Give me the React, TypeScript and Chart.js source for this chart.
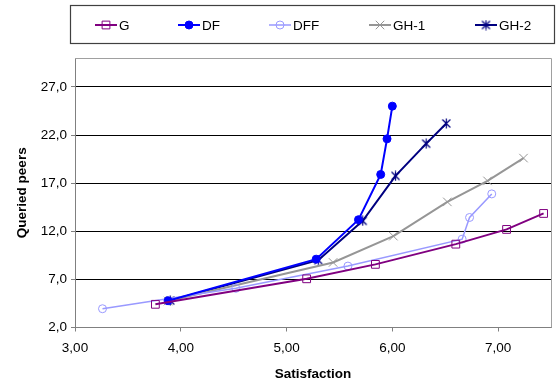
import React, { useEffect, useRef } from 'react';
import { Chart, registerables } from 'chart.js';

Chart.register(...registerables);

const seriesNames = ['G', 'DF', 'DFF', 'GH-1', 'GH-2'];
const gX = [3.76, 5.19, 5.84, 6.6, 7.08, 7.43];
const gY = [4.41, 7.06, 8.56, 10.66, 12.19, 13.85];
const dfX = [3.88, 5.28, 5.68, 5.89, 5.95, 6.0];
const dfY = [4.78, 9.1, 13.2, 17.9, 21.6, 25.0];
const dffX = [3.26, 4.52, 5.58, 6.66, 6.73, 6.94];
const dffY = [3.95, 6.07, 8.38, 11.18, 13.43, 15.88];
const gh1X = [3.88, 5.44, 6.01, 6.52, 6.9, 7.24];
const gh1Y = [4.75, 8.76, 11.49, 15.05, 17.23, 19.6];
const gh2X = [3.9, 5.3, 5.72, 6.03, 6.32, 6.51];
const gh2Y = [4.8, 9.0, 13.08, 17.75, 21.1, 23.2];
const xTickValues = [3, 4, 5, 6, 7];
const yTickValues = [2, 7, 12, 17, 22, 27];

const FONT = '"Liberation Sans", Arial, sans-serif';

function pts(xs: number[], ys: number[]) {
  return xs.map((x, i) => ({ x, y: ys[i] }));
}

function makeAsterisk(color: string): HTMLCanvasElement {
  const c = document.createElement('canvas');
  c.width = 11;
  c.height = 11;
  const g = c.getContext('2d')!;
  g.strokeStyle = color;
  g.lineWidth = 1.2;
  g.beginPath();
  g.moveTo(1.5, 1.5);
  g.lineTo(9.5, 9.5);
  g.moveTo(1.5, 9.5);
  g.lineTo(9.5, 1.5);
  g.moveTo(5.5, 0.5);
  g.lineTo(5.5, 10.5);
  g.stroke();
  return c;
}

function drawMarker(ctx: CanvasRenderingContext2D, style: any, x: number, y: number, r: number, stroke: string, fill: string) {
  ctx.save();
  ctx.strokeStyle = stroke;
  ctx.fillStyle = fill;
  ctx.lineWidth = 1;
  ctx.beginPath();
  if (typeof style !== 'string') {
    ctx.drawImage(style, x - style.width / 2, y - style.height / 2);
  } else if (style === 'rect') {
    const s = Math.SQRT1_2 * r;
    ctx.rect(x - s, y - s, 2 * s, 2 * s);
    ctx.fill();
    ctx.stroke();
  } else if (style === 'circle') {
    ctx.arc(x, y, r, 0, Math.PI * 2);
    ctx.fill();
    ctx.stroke();
  } else if (style === 'crossRot') {
    const o = Math.SQRT1_2 * r;
    ctx.moveTo(x - o, y - o);
    ctx.lineTo(x + o, y + o);
    ctx.moveTo(x - o, y + o);
    ctx.lineTo(x + o, y - o);
    ctx.stroke();
  }
  ctx.restore();
}

const legendPlugin = {
  id: 'boxLegend',
  afterDraw(chart: any) {
    const ctx = chart.ctx as CanvasRenderingContext2D;
    ctx.save();
    ctx.strokeStyle = '#404040';
    ctx.lineWidth = 1.2;
    ctx.strokeRect(70.5, 5.5, 484, 38);
    const xs = [95, 178, 269, 369, 475];
    chart.data.datasets.forEach((ds: any, i: number) => {
      const x0 = xs[i];
      const y = 25;
      ctx.strokeStyle = ds.borderColor;
      ctx.lineWidth = ds.borderWidth;
      ctx.beginPath();
      ctx.moveTo(x0, y);
      ctx.lineTo(x0 + 22, y);
      ctx.stroke();
      drawMarker(ctx, ds.pointStyle, x0 + 11, y, ds.pointRadius, ds.pointBorderColor, ds.pointBackgroundColor);
      ctx.fillStyle = '#000';
      ctx.font = `13.5px ${FONT}`;
      ctx.textAlign = 'left';
      ctx.textBaseline = 'middle';
      ctx.fillText(ds.label, x0 + 24, y + 1);
    });
    ctx.restore();
  },
};

const framePlugin = {
  id: 'frame',
  beforeDatasetsDraw(chart: any) {
    const { ctx, chartArea } = chart;
    ctx.save();
    ctx.strokeStyle = '#a0a0a0';
    ctx.lineWidth = 1;
    ctx.beginPath();
    ctx.moveTo(chartArea.left, Math.round(chartArea.top) + 0.5);
    ctx.lineTo(Math.round(chartArea.right) + 0.5, Math.round(chartArea.top) + 0.5);
    ctx.lineTo(Math.round(chartArea.right) + 0.5, chartArea.bottom);
    ctx.stroke();
    ctx.restore();
  },
};

export default function App() {
  const ref = useRef<HTMLCanvasElement>(null);
  useEffect(() => {
    if (!ref.current) return;
    const mk = (label: string, data: any[], color: string, style: any, r: number, fill: string, lw: number) => ({
      label,
      data,
      showLine: true,
      borderColor: color,
      borderWidth: lw,
      backgroundColor: color,
      pointStyle: style,
      pointRadius: r,
      pointBorderColor: color,
      pointBackgroundColor: fill,
      pointBorderWidth: 1,
      tension: 0,
    });
    const chart = new Chart(ref.current, {
      type: 'scatter',
      data: {
        datasets: [
          mk(seriesNames[0], pts(gX, gY), '#800080', 'rect', 5.5, 'rgba(255,255,255,0)', 2),
          mk(seriesNames[1], pts(dfX, dfY), '#0000ff', 'circle', 4, '#0000ff', 2),
          mk(seriesNames[2], pts(dffX, dffY), '#9999ff', 'circle', 4, 'rgba(255,255,255,0)', 1.5),
          mk(seriesNames[3], pts(gh1X, gh1Y), '#969696', 'crossRot', 6, 'rgba(0,0,0,0)', 2),
          mk(seriesNames[4], pts(gh2X, gh2Y), '#000080', makeAsterisk('#000080'), 5, 'rgba(0,0,0,0)', 2),
        ] as any,
      },
      options: {
        animation: false,
        responsive: true,
        maintainAspectRatio: false,
        layout: { padding: { top: 58, right: 7, left: 0, bottom: 0 } },
        plugins: { legend: { display: false }, tooltip: { enabled: false } },
        scales: {
          x: {
            type: 'linear',
            min: 3,
            max: 7.5,
            afterFit: (s: any) => { s.height = 57.5; },
            afterBuildTicks: (s: any) => { s.ticks = xTickValues.map((v) => ({ value: v })); },
            ticks: {
              color: '#000',
              font: { family: FONT, size: 13.5 },
              padding: 9,
              callback: (v: any) => Number(v).toFixed(2).replace('.', ','),
            },
            grid: { drawOnChartArea: false, drawTicks: true, tickLength: 4, tickColor: '#808080' },
            border: { color: '#808080', width: 1 },
            title: {
              display: true,
              text: 'Satisfaction',
              color: '#000',
              font: { family: FONT, size: 13.5, weight: 'bold' },
              padding: { top: 0, bottom: 3 },
            },
          },
          y: {
            type: 'linear',
            min: 2,
            max: 30,
            afterFit: (s: any) => { s.width = 75; },
            afterBuildTicks: (s: any) => { s.ticks = yTickValues.map((v) => ({ value: v })); },
            ticks: {
              color: '#000',
              font: { family: FONT, size: 13.5 },
              padding: 4,
              callback: (v: any) => Number(v).toFixed(1).replace('.', ','),
            },
            grid: {
              color: (c: any) => (c.tick && c.tick.value === 2 ? 'rgba(0,0,0,0)' : '#000'),
              lineWidth: 1,
              drawTicks: true,
              tickLength: 4,
              tickColor: '#808080',
            },
            border: { color: '#808080', width: 1 },
            title: {
              display: true,
              text: 'Queried peers',
              color: '#000',
              font: { family: FONT, size: 13.5, weight: 'bold' },
              padding: { top: 14, bottom: 0 },
            },
          },
        },
      } as any,
      plugins: [legendPlugin, framePlugin],
    });
    return () => chart.destroy();
  }, []);
  return (
    <div style={{ position: 'fixed', left: 0, top: 0, width: 558, height: 385, background: '#fff' }}>
      <canvas ref={ref} />
    </div>
  );
}
